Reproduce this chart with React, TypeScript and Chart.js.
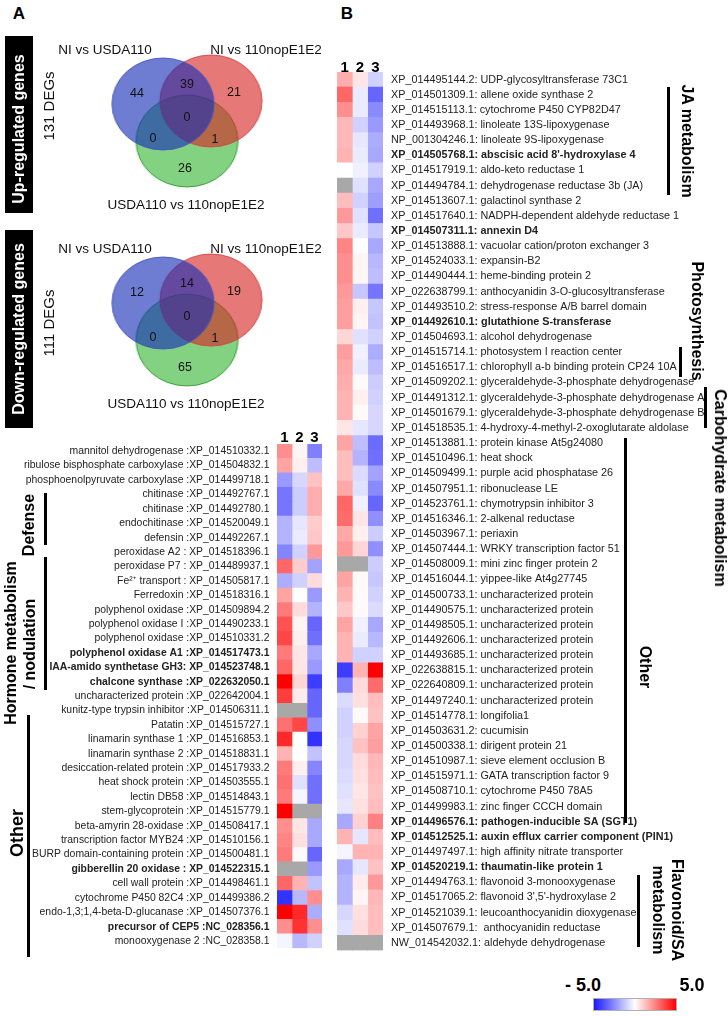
import React, { useEffect, useRef } from "react";
import { Chart, registerables } from "chart.js";
Chart.register(...registerables);

const FONT = "'Liberation Sans', Arial, Helvetica, sans-serif";

// ---------------- Venn data ----------------
const vennSetNames = ["NI vs USDA110", "NI vs 110nopE1E2", "USDA110 vs 110nopE1E2"];
const vennRegionKeys = ["A", "AB", "B", "ABC", "AC", "BC", "C"];
const upCounts = [44, 39, 21, 0, 0, 1, 26];
const downCounts = [12, 14, 19, 0, 0, 1, 65];
const upTitle = "Up-regulated genes";
const downTitle = "Down-regulated genes";
const upDEGs = "131 DEGs";
const downDEGs = "111 DEGs";

// ---------------- Heatmap data ----------------
const columnLabels = ["1", "2", "3"];

const leftLabels = [
  "mannitol dehydrogenase :XP_014510332.1",
  "ribulose bisphosphate carboxylase :XP_014504832.1",
  "phosphoenolpyruvate carboxylase :XP_014499718.1",
  "chitinase :XP_014492767.1",
  "chitinase :XP_014492780.1",
  "endochitinase :XP_014520049.1",
  "defensin :XP_014492267.1",
  "peroxidase A2 : XP_014518396.1",
  "peroxidase P7 : XP_014489937.1",
  "Fe\u00b2\u207a transport : XP_014505817.1",
  "Ferredoxin :XP_014518316.1",
  "polyphenol oxidase :XP_014509894.2",
  "polyphenol oxidase I :XP_014490233.1",
  "polyphenol oxidase :XP_014510331.2",
  "polyphenol oxidase A1 :XP_014517473.1",
  "IAA-amido synthetase GH3: XP_014523748.1",
  "chalcone synthase :XP_022632050.1",
  "uncharacterized protein :XP_022642004.1",
  "kunitz-type trypsin inhibitor :XP_014506311.1",
  "Patatin :XP_014515727.1",
  "linamarin synthase 1 :XP_014516853.1",
  "linamarin synthase 2 :XP_014518831.1",
  "desiccation-related protein :XP_014517933.2",
  "heat shock protein :XP_014503555.1",
  "lectin DB58 :XP_014514843.1",
  "stem-glycoprotein :XP_014515779.1",
  "beta-amyrin 28-oxidase :XP_014508417.1",
  "transcription factor MYB24 :XP_014510156.1",
  "BURP domain-containing protein :XP_014500481.1",
  "gibberellin 20 oxidase : XP_014522315.1",
  "cell wall protein :XP_014498461.1",
  "cytochrome P450 82C4 :XP_014499386.2",
  "endo-1,3;1,4-beta-D-glucanase :XP_014507376.1",
  "precursor of CEP5 :NC_028356.1",
  "monooxygenase 2 :NC_028358.1",
];
const leftBold = [14, 15, 16, 29, 33];
const leftCol1 = [2.2, 1.8, -2, -2.7, -2.7, -1.5, -1.5, -2.4, 3, -1.6, 1.8, 2.6, 3.4, 3.6, 2.6, 3, 5, 3.8, null, 2.8, 4.2, 1.5, 2.6, 2.8, 2.6, 5, 2.2, 2.4, 2.6, null, 3, -4, 5, 2.2, -0.2];
const leftCol2 = [0.2, 0.3, -0.8, -1, -1, -0.5, -0.4, -0.9, 1, -0.9, 0, 0.7, 0.2, 0.3, 0.5, 0.5, 0.8, 0.4, null, 3.6, 0, 0, 0.3, -0.6, -0.2, null, 0.5, 0.6, 0.1, null, 1.5, -1.4, 4.2, 4, -1.4];
const leftCol3 = [-2.5, -1.3, 1.2, 1.6, 1.6, 1, 1.1, 2, -1.8, 0.7, -2, -1.5, -3, -2.8, -1.7, -2, -3.8, -3, -3, -2.2, -4, -1.2, -2.4, -2.8, -2.8, null, -1.7, -1.7, -3, -2, -1.2, 2.2, -1.6, 2.2, -0.9];

const rightLabels = [
  "XP_014495144.2: UDP-glycosyltransferase 73C1",
  "XP_014501309.1: allene oxide synthase 2",
  "XP_014515113.1: cytochrome P450 CYP82D47",
  "XP_014493968.1: linoleate 13S-lipoxygenase",
  "NP_001304246.1: linoleate 9S-lipoxygenase",
  "XP_014505768.1: abscisic acid 8'-hydroxylase 4",
  "XP_014517919.1: aldo-keto reductase 1",
  "XP_014494784.1: dehydrogenase reductase 3b (JA)",
  "XP_014513607.1: galactinol synthase 2",
  "XP_014517640.1: NADPH-dependent aldehyde reductase 1",
  "XP_014507311.1: annexin D4",
  "XP_014513888.1: vacuolar cation/proton exchanger 3",
  "XP_014524033.1: expansin-B2",
  "XP_014490444.1: heme-binding protein 2",
  "XP_022638799.1: anthocyanidin 3-O-glucosyltransferase",
  "XP_014493510.2: stress-response A/B barrel domain",
  "XP_014492610.1: glutathione S-transferase",
  "XP_014504693.1: alcohol dehydrogenase",
  "XP_014515714.1: photosystem I reaction center",
  "XP_014516517.1: chlorophyll a-b binding protein CP24 10A",
  "XP_014509202.1: glyceraldehyde-3-phosphate dehydrogenase",
  "XP_014491312.1: glyceraldehyde-3-phosphate dehydrogenase A",
  "XP_014501679.1: glyceraldehyde-3-phosphate dehydrogenase B",
  "XP_014518535.1: 4-hydroxy-4-methyl-2-oxoglutarate aldolase",
  "XP_014513881.1: protein kinase At5g24080",
  "XP_014510496.1: heat shock",
  "XP_014509499.1: purple acid phosphatase 26",
  "XP_014507951.1: ribonuclease LE",
  "XP_014523761.1: chymotrypsin inhibitor 3",
  "XP_014516346.1: 2-alkenal reductase",
  "XP_014503967.1: periaxin",
  "XP_014507444.1: WRKY transcription factor 51",
  "XP_014508009.1: mini zinc finger protein 2",
  "XP_014516044.1: yippee-like At4g27745",
  "XP_014500733.1: uncharacterized protein",
  "XP_014490575.1: uncharacterized protein",
  "XP_014498505.1: uncharacterized protein",
  "XP_014492606.1: uncharacterized protein",
  "XP_014493685.1: uncharacterized protein",
  "XP_022638815.1: uncharacterized protein",
  "XP_022640809.1: uncharacterized protein",
  "XP_014497240.1: uncharacterized protein",
  "XP_014514778.1: longifolia1",
  "XP_014503631.2: cucumisin",
  "XP_014500338.1: dirigent protein 21",
  "XP_014510987.1: sieve element occlusion B",
  "XP_014515971.1: GATA transcription factor 9",
  "XP_014508710.1: cytochrome P450 78A5",
  "XP_014499983.1: zinc finger CCCH domain",
  "XP_014496576.1: pathogen-inducible SA (SGT1)",
  "XP_014512525.1: auxin efflux carrier component (PIN1)",
  "XP_014497497.1: high affinity nitrate transporter",
  "XP_014520219.1: thaumatin-like protein 1",
  "XP_014494763.1: flavonoid 3-monooxygenase",
  "XP_014517065.2: flavonoid 3',5'-hydroxylase 2",
  "XP_014521039.1: leucoanthocyanidin dioxygenase",
  "XP_014507679.1:  anthocyanidin reductase",
  "NW_014542032.1: aldehyde dehydrogenase",
];
const rightBold = [5, 10, 16, 49, 50, 52];
const rightCol1 = [1.6, 3, 2.2, 1.4, 1.4, 1.5, 0, null, 1.3, 2, 1.1, 2.4, 2.2, 2.2, 2, 1.9, 1.9, 0.8, 1.9, 1.7, 1.6, 1.5, 1.5, 0.5, 1.8, 1.3, 1.3, 1.7, 3, 2.9, 1.7, 2, null, 1.8, 1.5, 1.1, 1.8, 1.5, 1.5, -3.8, -2.5, -0.7, -0.9, -0.9, -0.8, -0.8, -0.7, -0.6, -0.5, -1.7, 1.5, -0.2, -1.7, -1.5, -1.5, -0.8, -0.6, null];
const rightCol2 = [0.5, -0.4, -0.4, -0.9, -0.5, -0.4, -0.3, -0.6, -0.9, -0.6, -0.4, 0, 0.2, 0.2, -1.1, 0.3, 0.2, -0.6, -0.3, -0.4, 0.1, 0.3, 0.1, -0.5, -1.3, -1.5, -0.7, -0.6, -0.3, 0.5, 0.3, 0.8, null, 0.1, 0.1, 0.1, -0.3, -0.4, -0.9, 1.5, 0.7, 0.6, 0.1, 0.9, 1.2, 0.7, 0.6, 0.5, 0.6, 0.9, -0.5, 1.5, -0.5, 0.4, 0.2, 0.6, 0.7, null];
const rightCol3 = [-0.9, -3, -2.3, -2, -1.6, -1.7, -0.9, -1.7, -1.9, -2.8, -1.1, -1.7, -1.4, -1.3, -2.7, -1.1, -1.2, -0.9, -1.6, -1.3, -1, -0.9, -0.8, -0.8, -2.9, -2.8, -1.8, -2.3, -3, -2.2, -1, -2.2, -1, -1.1, -0.9, -0.7, -1.7, -1.4, -0.9, 5, 2.9, 1.3, 1.2, 1.8, 1.9, 1.4, 1.3, 1.2, 1.3, 2.5, 1.3, 1.5, 1.2, 2, 1.4, 1.3, 1.3, null];

const scaleMin = "- 5.0";
const scaleMax = "5.0";

// ---------------- helpers ----------------
function heatColor(v: number | null): string {
  if (v === null || v === undefined || Number.isNaN(v)) return "rgb(168,168,168)";
  const t = Math.min(1, Math.abs(v) / 5);
  const c = Math.round(255 * (1 - t));
  return v >= 0 ? `rgb(255,${c},${c})` : `rgb(${c},${c},255)`;
}

type TProps = {
  x: number; y: number; rot?: number; size: number; bold?: boolean; color?: string; children: React.ReactNode;
};
const T = ({ x, y, rot = 0, size, bold, color = "#000", children }: TProps) => (
  <div
    style={{
      position: "absolute", left: x, top: y,
      transform: `translate(-50%,-50%) rotate(${rot}deg)`,
      whiteSpace: "pre", fontSize: size, lineHeight: `${size}px`,
      fontWeight: bold ? "bold" : "normal", color, fontFamily: FONT,
    }}
  >
    {children}
  </div>
);

const Line = ({ x, y, h }: { x: number; y: number; h: number }) => (
  <div style={{ position: "absolute", left: x, top: y, width: 3, height: h, background: "#000" }} />
);

// ---------------- Venn ----------------
const VENN_SX = 51 / 46;
function Venn({ counts, dy }: { counts: number[]; dy: number }) {
  const ref = useRef<HTMLCanvasElement>(null);
  useEffect(() => {
    const ox = 100, oy = 50;
    const loc = (x: number, y: number) => ({ x: (x - ox) / VENN_SX, y: y - oy, r: 46 });
    const circles = [
      { p: loc(163, 104), fill: "rgba(21,45,182,0.62)", stroke: "rgba(70,85,190,0.9)" },
      { p: loc(211, 101), fill: "rgba(215,37,37,0.62)", stroke: "rgba(215,70,70,0.9)" },
      { p: loc(187, 141), fill: "rgb(130,210,130)", stroke: "rgb(95,185,95)" },
    ];
    const bg = {
      id: "bg",
      beforeDraw(chart: any) {
        const c = chart.ctx;
        c.save(); c.fillStyle = "#fff"; c.fillRect(0, 0, chart.width, chart.height); c.restore();
      },
    };
    const mult = {
      id: "mult",
      beforeDatasetDraw(chart: any, args: any) {
        if (args.index === 2) { chart.ctx.save(); chart.ctx.globalCompositeOperation = "multiply"; }
      },
      afterDatasetDraw(chart: any, args: any) {
        if (args.index === 2) chart.ctx.restore();
      },
    };
    const chart = new Chart(ref.current!, {
      type: "bubble",
      data: {
        datasets: circles.map((c, i) => ({
          label: vennSetNames[i],
          data: [c.p],
          backgroundColor: c.fill,
          borderColor: c.stroke,
          borderWidth: 1,
          clip: false,
        })),
      },
      options: {
        animation: false,
        responsive: false,
        events: [],
        layout: { padding: 0, autoPadding: false },
        plugins: { legend: { display: false }, tooltip: { enabled: false } },
        scales: {
          x: { type: "linear", min: 0, max: 160, display: false },
          y: { type: "linear", min: 0, max: 150, reverse: true, display: false },
        },
      },
      plugins: [bg, mult],
    } as any);
    return () => chart.destroy();
  }, []);
  const pos: Record<string, [number, number]> = {
    A: [137, 93], AB: [187, 84], B: [234, 92], ABC: [187, 117], AC: [153, 138], BC: [215, 139], C: [185, 168],
  };
  return (
    <>
      <div style={{ position: "absolute", left: 100, top: 50 + dy, width: 160, height: 150, transform: `scaleX(${VENN_SX})`, transformOrigin: "0 0" }}>
        <canvas ref={ref} width={160} height={150} />
      </div>
      {vennRegionKeys.map((k, i) => (
        <T key={k} x={pos[k][0]} y={pos[k][1] + dy} size={12.5} color="#111">{String(counts[i])}</T>
      ))}
      <T x={105} y={50 + dy} size={13.5} color="#111">{vennSetNames[0]}</T>
      <T x={266} y={50 + dy} size={13.5} color="#111">{vennSetNames[1]}</T>
      <T x={186} y={205 + dy} size={13.5} color="#111">{vennSetNames[2]}</T>
    </>
  );
}

// ---------------- Heatmap ----------------
type HMProps = {
  labels: string[]; cols: (number | null)[][]; bold: number[]; side: "left" | "right";
  left: number; top: number; width: number; height: number;
  xAxisH: number; yAxisW: number; padL: number; padR: number; tickPad: number; fontSize: number; headPad: number;
};
function Heatmap(p: HMProps) {
  const ref = useRef<HTMLCanvasElement>(null);
  useEffect(() => {
    const chart = new Chart(ref.current!, {
      type: "bar",
      data: {
        labels: p.labels,
        datasets: p.cols.map((col, ci) => ({
          label: columnLabels[ci],
          data: col.map(() => 1),
          backgroundColor: col.map(heatColor),
          borderWidth: 0,
          barPercentage: 1,
          categoryPercentage: 1,
          stack: "s",
        })),
      },
      options: {
        indexAxis: "y",
        animation: false,
        responsive: false,
        events: [],
        layout: { padding: { left: p.padL, right: p.padR, top: 0, bottom: 0 } },
        plugins: { legend: { display: false }, tooltip: { enabled: false } },
        scales: {
          x: {
            type: "linear", position: "top", stacked: true, min: 0, max: 3,
            grid: { display: false, drawTicks: false }, border: { display: false },
            afterBuildTicks: (ax: any) => { ax.ticks = [0.5, 1.5, 2.5].map((v) => ({ value: v })); },
            afterFit: (s: any) => { s.height = p.xAxisH; },
            ticks: {
              autoSkip: false, maxRotation: 0, padding: p.headPad, color: "#000",
              font: { family: FONT, size: 15, weight: "bold", lineHeight: 1 },
              callback: (_v: any, i: number) => columnLabels[i],
            },
          },
          y: {
            type: "category", position: p.side, stacked: true,
            grid: { display: false, drawTicks: false }, border: { display: false },
            afterFit: (s: any) => { s.width = p.yAxisW; },
            ticks: {
              autoSkip: false, padding: p.tickPad, color: "#222",
              font: (ctx: any) => ({ family: FONT, size: p.fontSize, weight: p.bold.includes(ctx.index) ? "bold" : "normal" }),
            },
          },
        },
      },
    } as any);
    return () => chart.destroy();
  }, []);
  return (
    <div style={{ position: "absolute", left: p.left, top: p.top, width: p.width, height: p.height }}>
      <canvas ref={ref} width={p.width} height={p.height} />
    </div>
  );
}

export default function App() {
  return (
    <div style={{ position: "absolute", left: 0, top: 0, width: 728, height: 1016, background: "#fff", overflow: "hidden", fontFamily: FONT }}>
      <Venn counts={upCounts} dy={0} />
      <Venn counts={downCounts} dy={199} />

      <Heatmap labels={leftLabels} cols={[leftCol1, leftCol2, leftCol3]} bold={leftBold} side="left"
        left={0} top={420} width={330} height={542} xAxisH={24} yAxisW={277} padL={0} padR={8} tickPad={7.5} fontSize={10.4} headPad={-1.5} />
      <Heatmap labels={rightLabels} cols={[rightCol1, rightCol2, rightCol3]} bold={rightBold} side="right"
        left={330} top={45} width={398} height={920} xAxisH={27} yAxisW={345} padL={7} padR={0} tickPad={8} fontSize={10.8} headPad={-3.5} />

      {/* panel letters */}
      <T x={19} y={13} size={17} bold>A</T>
      <T x={347} y={13} size={17} bold>B</T>

      {/* left boxes */}
      <div style={{ position: "absolute", left: 5, top: 36, width: 28, height: 177, background: "#000" }} />
      <div style={{ position: "absolute", left: 5, top: 230, width: 28, height: 198, background: "#000" }} />
      <T x={19} y={129} rot={-90} size={16} bold color="#fff">{upTitle}</T>
      <T x={19} y={329} rot={-90} size={16} bold color="#fff">{downTitle}</T>
      <T x={48} y={106} rot={-90} size={15} color="#111">{upDEGs}</T>
      <T x={48} y={323} rot={-90} size={15} color="#111">{downDEGs}</T>

      {/* left groups */}
      <Line x={44} y={493} h={52} />
      <T x={29} y={525} rot={-90} size={16} bold>Defense</T>
      <Line x={44} y={557} h={133} />
      <T x={11} y={643} rot={-90} size={16} bold>Hormone metabolism</T>
      <T x={30} y={644} rot={-90} size={16} bold>/ nodulation</T>
      <Line x={27} y={715} h={242} />
      <T x={17} y={833} rot={-90} size={18} bold>Other</T>

      {/* right groups */}
      <Line x={667} y={87} h={108} />
      <T x={687} y={141} rot={90} size={16} bold>JA metabolism</T>
      <Line x={679} y={347} h={30} />
      <T x={697} y={321} rot={90} size={16} bold>Photosynthesis</T>
      <Line x={704} y={387} h={41} />
      <T x={720} y={488} rot={90} size={16} bold>Carbohydrate metabolism</T>
      <Line x={624} y={438} h={385} />
      <T x={645} y={667} rot={90} size={16} bold>Other</T>
      <Line x={637} y={875} h={72} />
      <T x={677} y={910} rot={90} size={16} bold>Flavonoid/SA</T>
      <T x={658} y={910} rot={90} size={16} bold>metabolism</T>

      {/* colour scale */}
      <T x={583} y={985} size={18} bold>{scaleMin}</T>
      <T x={692} y={985} size={18} bold>{scaleMax}</T>
      <div style={{
        position: "absolute", left: 593, top: 998, width: 84, height: 13, boxSizing: "border-box",
        border: "1px solid #b0b0b0",
        background: "linear-gradient(to right, rgb(25,25,255), rgb(255,255,255) 50%, rgb(255,0,0))",
      }} />
    </div>
  );
}
